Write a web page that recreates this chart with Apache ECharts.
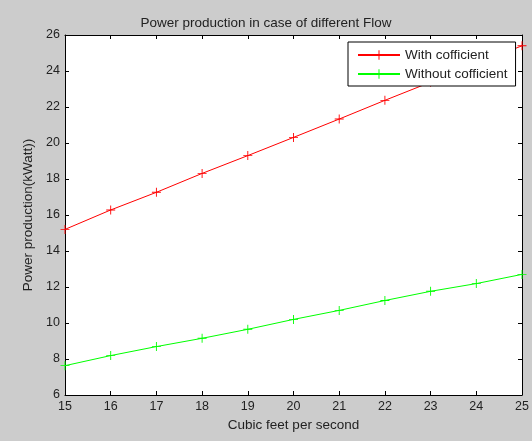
<!DOCTYPE html>
<html>
	<head>
		<meta charset="utf-8">
		<title>Power production</title>
		<script src="https://cdn.jsdelivr.net/npm/echarts@6/dist/echarts.min.js"></script>
		<style>
			html, body { margin: 0; padding: 0; background: #cccccc; }
		</style>
	</head>
	<body>
		<div id="box" style="width: 532px;height: 441px;"></div>
		<script>
			// flow (cubic feet per second) and power (kWatt)
			var flowArr = [15, 16, 17, 18, 19, 20, 21, 22, 23, 24, 25]
			var withCoefArr = [15.2, 16.28, 17.26, 18.31, 19.3, 20.31, 21.33, 22.37, 23.38, 24.39, 25.4]
			var withoutCoefArr = [7.63, 8.19, 8.69, 9.15, 9.65, 10.2, 10.7, 11.25, 11.76, 12.19, 12.7]
			var seriesNames = ['With cofficient', 'Without cofficient']

			var plusIcon = 'path://M4.5,0H5.5V4.5H10V5.5H5.5V10H4.5V5.5H0V4.5H4.5Z'
			var font = 'Liberation Sans'

			function pairs(ys) {
				return flowArr.map(function (x, i) { return [x, ys[i]] })
			}

			function boxAxis(pos, min, max, interval, extra) {
				var ax = {
					type: 'value',
					position: pos,
					min: min,
					max: max,
					interval: interval,
					axisLine: { show: true, lineStyle: { color: '#000', width: 1 } },
					axisTick: { show: true, inside: true, length: 4, lineStyle: { color: '#000' } },
					splitLine: { show: false },
					axisLabel: { show: false }
				}
				return Object.assign(ax, extra || {})
			}

			var mCharts = echarts.init(document.querySelector('#box'))
			var option = {
				backgroundColor: '#cccccc',
				textStyle: { fontFamily: font },
				title: {
					text: 'Power production in case of different Flow',
					left: 'center',
					top: 11,
					textStyle: { fontFamily: font, fontSize: 13.5, fontWeight: 'normal', color: '#222' }
				},
				legend: {
					orient: 'vertical',
					left: 348,
					top: 42,
					padding: [6, 8, 5, 9],
					itemGap: 5,
					itemWidth: 42,
					itemHeight: 12,
					backgroundColor: '#fff',
					borderColor: '#000',
					borderWidth: 1,
					borderRadius: 0,
					textStyle: { fontFamily: font, fontSize: 13.5, color: '#222' },
					data: seriesNames
				},
				grid: { left: 65, top: 35, right: 10, bottom: 46, backgroundColor: '#fff', show: true, borderWidth: 0 },
				xAxis: [
					boxAxis('bottom', 15, 25, 1, {
						name: 'Cubic feet per second',
						nameLocation: 'middle',
						nameGap: 22,
						nameTextStyle: { fontFamily: font, fontSize: 13.5, color: '#222' },
						axisLabel: { show: true, color: '#222', fontSize: 12.5, margin: 5, fontFamily: font }
					}),
					boxAxis('top', 15, 25, 1)
				],
				yAxis: [
					boxAxis('left', 6, 26, 2, {
						name: 'Power production(kWatt))',
						nameLocation: 'middle',
						nameGap: 27,
						nameTextStyle: { fontFamily: font, fontSize: 13.5, color: '#222' },
						axisLabel: { show: true, color: '#222', fontSize: 12.5, margin: 5, fontFamily: font }
					}),
					boxAxis('right', 6, 26, 2)
				],
				series: [
					{
						name: seriesNames[0],
						type: 'line',
						data: pairs(withCoefArr),
						symbol: plusIcon,
						symbolSize: 9,
						showAllSymbol: true,
						lineStyle: { color: '#ff0000', width: 1 },
						itemStyle: { color: '#ff0000' },
						animation: false
					},
					{
						name: seriesNames[1],
						type: 'line',
						data: pairs(withoutCoefArr),
						symbol: plusIcon,
						symbolSize: 9,
						showAllSymbol: true,
						lineStyle: { color: '#00ff00', width: 1 },
						itemStyle: { color: '#00ff00' },
						animation: false
					}
				]
			}
			mCharts.setOption(option)
		</script>
	</body>
</html>
